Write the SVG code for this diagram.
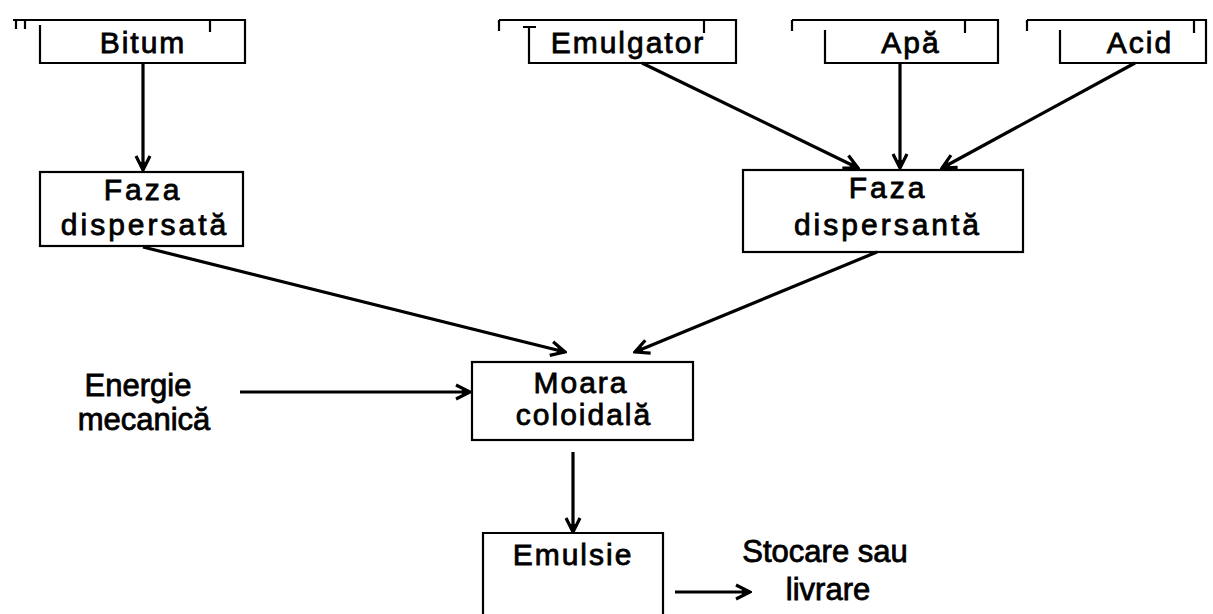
<svg xmlns="http://www.w3.org/2000/svg" width="1213" height="614" viewBox="0 0 1213 614">
<defs>
<style>
.box{fill:none;stroke:#000;stroke-width:2.2}
.edge{fill:none;stroke:#000;stroke-width:3.2;marker-end:url(#ah)}
.t{font-family:"Liberation Sans",Arial,Helvetica,sans-serif;font-size:30px;fill:#000;stroke:#000;stroke-width:0.8;letter-spacing:2px;text-anchor:middle}
.w{letter-spacing:3px}
.l{font-family:"Liberation Sans",Arial,Helvetica,sans-serif;font-size:31px;fill:#000;stroke:#000;stroke-width:0.8;text-anchor:middle}
</style>
<marker id="ah" viewBox="0 0 18 18" refX="16" refY="9" markerWidth="18" markerHeight="18" markerUnits="userSpaceOnUse" orient="auto">
<path d="M2,2 L16,9 L2,16" fill="none" stroke="#000" stroke-width="3.2"/>
<path d="M8,6 L16,9 L8,12 z" fill="#000"/>
</marker>
</defs>
<rect width="1213" height="614" fill="#fff"/>
<g id="bitum">
<path class="box" d="M13,20 H245 V63 H40 V25 M16,20 V29 M25,20 V29 M210,20 V32"/>
<text class="t" x="143" y="53">Bitum</text>
</g>
<g id="emulgator">
<path class="box" d="M499,20 H736 V63 H529 V27 M499,20 V31 M523,27 H536 M704,20 V33"/>
<text class="t" x="628" y="53">Emulgator</text>
</g>
<g id="apa">
<path class="box" d="M792,20 H998 V63 H825 V30 M792,20 V31 M965,20 V33"/>
<text class="t" x="911" y="53">Apă</text>
</g>
<g id="acid">
<path class="box" d="M1027,20 H1206 V63 H1060 V30 M1027,20 V31 M1194,20 V33"/>
<text class="t" x="1140" y="53">Acid</text>
</g>
<g id="faza-dispersata">
<rect class="box" x="40" y="172" width="203" height="74"/>
<text class="t w" x="143" y="200">Faza</text>
<text class="t w" x="145" y="235">dispersată</text>
</g>
<g id="faza-dispersanta">
<rect class="box" x="743" y="170" width="280" height="82"/>
<text class="t w" x="888" y="198">Faza</text>
<text class="t w" x="888" y="235">dispersantă</text>
</g>
<g id="energie">
<text class="l" x="138" y="396">Energie</text>
<text class="l" x="144" y="430">mecanică</text>
</g>
<g id="moara">
<rect class="box" x="472" y="362" width="221" height="78"/>
<text class="t" x="581" y="393">Moara</text>
<text class="t" x="584" y="425">coloidală</text>
</g>
<g id="emulsie">
<path class="box" d="M483,620 V533 H663 V620"/>
<text class="t" x="573" y="565">Emulsie</text>
</g>
<g id="stocare">
<text class="l" x="825" y="562">Stocare sau</text>
<text class="l" x="828" y="600">livrare</text>
</g>
<g id="connectors">
<line class="edge" x1="143" y1="63" x2="143" y2="170"/>
<line class="edge" x1="642" y1="63" x2="858" y2="168"/>
<line class="edge" x1="900" y1="63" x2="900" y2="168"/>
<line class="edge" x1="1135" y1="63" x2="942" y2="168"/>
<line class="edge" x1="143" y1="247" x2="565" y2="352"/>
<line class="edge" x1="877" y1="252" x2="635" y2="352"/>
<line class="edge" x1="240" y1="392" x2="470" y2="392"/>
<line class="edge" x1="573" y1="452" x2="573" y2="532"/>
<line class="edge" x1="675" y1="592" x2="750" y2="592"/>
</g>
</svg>
